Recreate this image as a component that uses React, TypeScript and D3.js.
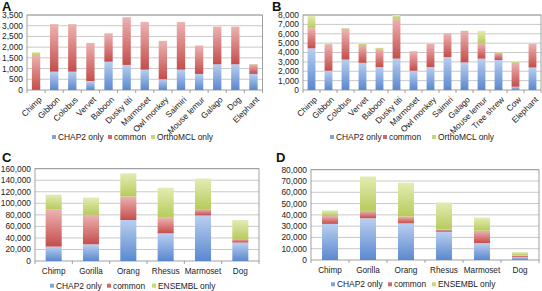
import React from 'react';
import * as d3 from 'd3';

// ---------- DATA ----------
const catsA = ['Chimp', 'Gibbon', 'Colobus', 'Vervet', 'Baboon', 'Dusky titi', 'Marmoset', 'Owl monkey', 'Saimiri', 'Mouse lemur', 'Galago', 'Dog', 'Elephant'];
const chap2A = [5, 855, 855, 420, 1320, 1170, 950, 500, 950, 750, 1200, 1200, 750];
const commonA = [1630, 2215, 2215, 1775, 1320, 2220, 2220, 1790, 2220, 1320, 1755, 1755, 450];
const orthoA = [130, 10, 10, 10, 10, 10, 10, 10, 10, 10, 10, 10, 10];
const ticksA = [0, 500, 1000, 1500, 2000, 2500, 3000, 3500];

const catsB = ['Chimp', 'Gibbon', 'Colobus', 'Vervet', 'Baboon', 'Dusky titi', 'Marmoset', 'Owl monkey', 'Saimiri', 'Galago', 'Mouse lemur', 'Tree shrew', 'Cow', 'Elephant'];
const chap2B = [4450, 2050, 3250, 2900, 2450, 3350, 2050, 2450, 3520, 2950, 3350, 3200, 350, 2400];
const commonB = [2150, 2820, 3150, 1900, 1900, 4200, 2050, 2480, 2460, 3350, 1580, 750, 2550, 2520];
const orthoB = [1300, 130, 220, 180, 150, 450, 60, 50, 100, 50, 1400, 80, 120, 60];
const ticksB = [0, 1000, 2000, 3000, 4000, 5000, 6000, 7000, 8000];

const catsC = ['Chimp', 'Gorilla', 'Orang', 'Rhesus', 'Marmoset', 'Dog'];
const chap2C = [25000, 29000, 71000, 48000, 79000, 32000];
const commonC = [64000, 51000, 41000, 27000, 11000, 6000];
const ensemblC = [26000, 30000, 40000, 52000, 53000, 33000];
const ticksC = [0, 20000, 40000, 60000, 80000, 100000, 120000, 140000, 160000];

const catsD = ['Chimp', 'Gorilla', 'Orang', 'Rhesus', 'Marmoset', 'Dog'];
const chap2D = [32000, 37000, 32500, 25000, 15000, 2500];
const commonD = [7000, 6500, 6000, 2000, 11000, 1500];
const ensemblD = [5000, 30500, 30000, 24000, 11500, 3000];
const ticksD = [0, 10000, 20000, 30000, 40000, 50000, 60000, 70000, 80000];

const namesAB = ['CHAP2 only', 'common', 'OrthoMCL only'];
const namesCD = ['CHAP2 only', 'common', 'ENSEMBL only'];

// ---------- STYLE ----------
const FONT = 'Liberation Sans, Arial, Helvetica, sans-serif';
const gradIds = ['gBlue', 'gRed', 'gGreen'];
const solid = ['#7fa3dc', '#d06a68', '#c6d77a'];

type PanelProps = {
  letter: string;
  letterX: number;
  letterY: number;
  cats: string[];
  series: number[][];
  names: string[];
  ticks: number[];
  left: number;
  right: number;
  top: number;
  bottom: number;
  rotated: boolean;
  barFrac: number;
  legendY: number;
  legendX: number[];
  labelY: number;
};

function Panel(p: PanelProps) {
  const keys = ['s0', 's1', 's2'];
  const rows = p.cats.map((c, i) => ({ cat: c, s0: p.series[0][i], s1: p.series[1][i], s2: p.series[2][i] }));
  const stacked = d3.stack<any>().keys(keys)(rows);
  const x = d3.scaleBand().domain(p.cats).range([p.left, p.right]).paddingInner(0).paddingOuter(0);
  const y = d3.scaleLinear().domain([0, p.ticks[p.ticks.length - 1]]).range([p.bottom, p.top]);
  const bw = x.bandwidth();
  const barW = bw * p.barFrac;
  const fmt = d3.format(',');
  return (
    <g>
      <text x={p.letterX} y={p.letterY} fontFamily={FONT} fontWeight="bold" fontSize={13} fill="#111">{p.letter}</text>
      {p.ticks.map((t) => (
        <g key={t}>
          {t > 0 && <line x1={p.left} x2={p.right} y1={y(t)} y2={y(t)} stroke="#c9c9c9" strokeWidth={1} />}
          <text x={p.left - 4} y={y(t)} dy="0.35em" textAnchor="end" fontFamily={FONT} fontSize={8.4} fill="#222">{fmt(t)}</text>
        </g>
      ))}
      <rect x={p.left} y={p.top} width={p.right - p.left} height={p.bottom - p.top} fill="none" stroke="#8a8a8a" strokeWidth={0.8} />
      {p.cats.map((c, i) => (
        <line key={'tk' + i} x1={x(c)!} x2={x(c)!} y1={p.bottom} y2={p.bottom + 3} stroke="#8a8a8a" strokeWidth={0.8} />
      ))}
      <line x1={p.right} x2={p.right} y1={p.bottom} y2={p.bottom + 3} stroke="#8a8a8a" strokeWidth={0.8} />
      {stacked.map((layer, si) => (
        <g key={'l' + si}>
          {layer.map((d, i) => {
            const cx = x(p.cats[i])! + bw / 2;
            const y0 = y(d[0]);
            const y1 = y(d[1]);
            const h = y0 - y1;
            if (h <= 0) return null;
            return <rect key={i} x={cx - barW / 2} y={y1} width={barW} height={h} fill={`url(#${gradIds[si]})`} />;
          })}
        </g>
      ))}
      {p.cats.map((c, i) => {
        const cx = x(c)! + bw / 2;
        return p.rotated ? (
          <text key={'xl' + i} transform={`translate(${cx + 2},${p.bottom + 6}) rotate(-45)`} textAnchor="end" dy="0.7em" fontFamily={FONT} fontSize={8.4} fill="#222">{c}</text>
        ) : (
          <text key={'xl' + i} x={cx} y={p.labelY} textAnchor="middle" fontFamily={FONT} fontSize={8.2} fill="#222">{c}</text>
        );
      })}
      {p.names.map((n, i) => (
        <g key={'lg' + i}>
          <rect x={p.legendX[i] - 2} y={p.legendY - 2} width={4} height={4} fill={solid[i]} />
          <text x={p.legendX[i] + 4} y={p.legendY} dy="0.35em" fontFamily={FONT} fontSize={8.4} fill="#222">{n}</text>
        </g>
      ))}
    </g>
  );
}

export default function App() {
  return (
    <svg width={542} height={291} style={{ position: 'absolute', left: 0, top: 0, background: '#fff' }}>
      <defs>
        <linearGradient id="gBlue" x1="0" y1="0" x2="0" y2="1">
          <stop offset="0" stopColor="#b9cff0" />
          <stop offset="1" stopColor="#5a88cf" />
        </linearGradient>
        <linearGradient id="gRed" x1="0" y1="0" x2="0" y2="1">
          <stop offset="0" stopColor="#ecb3b2" />
          <stop offset="1" stopColor="#c44d4b" />
        </linearGradient>
        <linearGradient id="gGreen" x1="0" y1="0" x2="0" y2="1">
          <stop offset="0" stopColor="#e3ecb3" />
          <stop offset="1" stopColor="#b6cb5c" />
        </linearGradient>
      </defs>
      <rect width={542} height={291} fill="#fff" />
      <Panel letter="A" letterX={2} letterY={10.8} cats={catsA} series={[chap2A, commonA, orthoA]} names={namesAB} ticks={ticksA}
        left={27} right={262.5} top={15} bottom={90} rotated barFrac={0.46} legendY={137} legendX={[54, 110, 153]} labelY={0} />
      <Panel letter="B" letterX={272} letterY={10.8} cats={catsB} series={[chap2B, commonB, orthoB]} names={namesAB} ticks={ticksB}
        left={303} right={541} top={15} bottom={90} rotated barFrac={0.46} legendY={137} legendX={[332, 385, 434]} labelY={0} />
      <Panel letter="C" letterX={2} letterY={162} cats={catsC} series={[chap2C, commonC, ensemblC]} names={namesCD} ticks={ticksC}
        left={35} right={259} top={168.7} bottom={261} rotated={false} barFrac={0.43} legendY={285.7} legendX={[52, 109, 154]} labelY={274} />
      <Panel letter="D" letterX={276} letterY={162} cats={catsD} series={[chap2D, commonD, ensemblD]} names={namesCD} ticks={ticksD}
        left={311} right={539} top={169.7} bottom={260} rotated={false} barFrac={0.42} legendY={284.3} legendX={[333, 390, 434]} labelY={273} />
    </svg>
  );
}
